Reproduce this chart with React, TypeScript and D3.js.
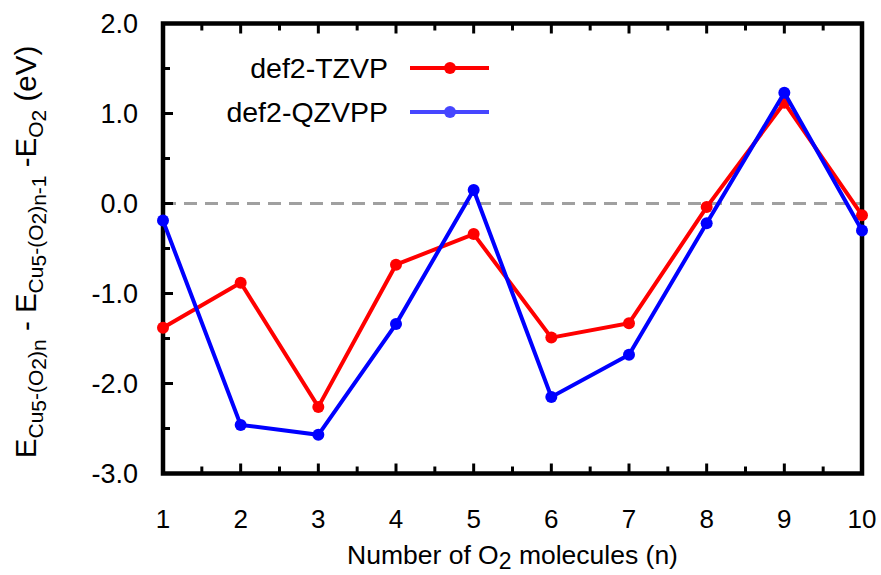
import React from "react";
import * as d3 from "d3";

const nValues = [1, 2, 3, 4, 5, 6, 7, 8, 9, 10];
const tzvp = [-1.38, -0.88, -2.26, -0.68, -0.34, -1.49, -1.33, -0.04, 1.12, -0.13];
const qzvpp = [-0.19, -2.46, -2.57, -1.34, 0.15, -2.15, -1.68, -0.22, 1.23, -0.3];
const yTickLabels = ["2.0", "1.0", "0.0", "-1.0", "-2.0", "-3.0"];
const yTickValues = [2, 1, 0, -1, -2, -3];

const W = 881;
const H = 575;
const FONT = "'Liberation Sans', Arial, Helvetica, sans-serif";

const x = d3.scaleLinear().domain([1, 10]).range([163, 862]);
const y = d3.scaleLinear().domain([-3, 2]).range([473.5, 23.5]);

type Seg = { t: string; lvl: number };

const yLabelSegs: Seg[] = [
  { t: "E", lvl: 0 },
  { t: "Cu", lvl: 1 },
  { t: "5", lvl: 2 },
  { t: "-(O", lvl: 1 },
  { t: "2", lvl: 2 },
  { t: ")", lvl: 1 },
  { t: "n", lvl: 2 },
  { t: " - E", lvl: 0 },
  { t: "Cu", lvl: 1 },
  { t: "5", lvl: 2 },
  { t: "-(O", lvl: 1 },
  { t: "2", lvl: 2 },
  { t: ")", lvl: 1 },
  { t: "n-1", lvl: 2 },
  { t: " -E", lvl: 0 },
  { t: "O", lvl: 1 },
  { t: "2", lvl: 2 },
  { t: " (eV)", lvl: 0 },
];

const levelOffset = [0, 7, 10];
const levelSize = [29.5, 21, 21];

function RichText({ segs }: { segs: Seg[] }) {
  let cur = 0;
  return (
    <>
      {segs.map((s, i) => {
        const target = levelOffset[s.lvl];
        const dy = target - cur;
        cur = target;
        return (
          <tspan key={i} dy={dy} fontSize={levelSize[s.lvl]}>
            {s.t}
          </tspan>
        );
      })}
    </>
  );
}

export default function App() {
  const line = d3
    .line<number>()
    .x((_, i) => x(nValues[i]))
    .y((d) => y(d));

  const series = [
    { name: "def2-TZVP", values: tzvp, color: "#ff0000", legendColor: "#ff0000" },
    { name: "def2-QZVPP", values: qzvpp, color: "#0000ff", legendColor: "#4646ff" },
  ];

  const majorX = nValues;
  const minorX = d3.range(1.5, 10, 1);
  const minorY = d3.range(-2.5, 2, 1);

  const left = x(1);
  const right = x(10);
  const top = y(2);
  const bottom = y(-3);

  return (
    <svg
      width={W}
      height={H}
      style={{ position: "absolute", left: 0, top: 0, background: "#fff" }}
      fontFamily={FONT}
    >
      <rect x={0} y={0} width={W} height={H} fill="#fff" />

      {/* zero reference */}
      <line
        x1={left}
        x2={right}
        y1={y(0)}
        y2={y(0)}
        stroke="#a0a0a0"
        strokeWidth={3}
        strokeDasharray="13 8"
      />

      {/* ticks: inward on left, bottom and top */}
      <g stroke="#000" strokeWidth={3}>
        {yTickValues.map((v) => (
          <line key={"ym" + v} x1={left} x2={left + 10} y1={y(v)} y2={y(v)} />
        ))}
        {minorY.map((v) => (
          <line key={"yn" + v} x1={left} x2={left + 7} y1={y(v)} y2={y(v)} />
        ))}
        {majorX.map((v) => (
          <g key={"xm" + v}>
            <line x1={x(v)} x2={x(v)} y1={bottom} y2={bottom - 10} />
            <line x1={x(v)} x2={x(v)} y1={top} y2={top + 10} />
          </g>
        ))}
        {minorX.map((v) => (
          <g key={"xn" + v}>
            <line x1={x(v)} x2={x(v)} y1={bottom} y2={bottom - 7} />
            <line x1={x(v)} x2={x(v)} y1={top} y2={top + 7} />
          </g>
        ))}
      </g>

      {/* frame */}
      <rect
        x={left}
        y={top}
        width={right - left}
        height={bottom - top}
        fill="none"
        stroke="#000"
        strokeWidth={4.5}
      />

      {/* data */}
      {series.map((s) => (
        <g key={s.name}>
          <path d={line(s.values) || ""} fill="none" stroke={s.color} strokeWidth={4} strokeLinejoin="miter" />
          {s.values.map((v, i) => (
            <circle key={i} cx={x(nValues[i])} cy={y(v)} r={6} fill={s.color} />
          ))}
        </g>
      ))}

      {/* legend */}
      {series.map((s, i) => {
        const ly = 68 + i * 44;
        return (
          <g key={"lg" + s.name}>
            <text x={388} y={ly} dy="0.35em" textAnchor="end" fontSize={28.5} fill="#000">
              {s.name}
            </text>
            <line x1={410} x2={489} y1={ly} y2={ly} stroke={s.legendColor} strokeWidth={4} />
            <circle cx={450} cy={ly} r={6} fill={s.legendColor} />
          </g>
        );
      })}

      {/* y tick labels */}
      {yTickValues.map((v, i) => (
        <text
          key={"yl" + v}
          x={138}
          y={y(v)}
          dy="0.36em"
          textAnchor="end"
          fontSize={27}
          fill="#000"
        >
          {yTickLabels[i]}
        </text>
      ))}

      {/* x tick labels */}
      {nValues.map((v) => (
        <text key={"xl" + v} x={x(v)} y={528} textAnchor="middle" fontSize={26} fill="#000">
          {v}
        </text>
      ))}

      {/* x axis title */}
      <text x={(left + right) / 2} y={564} textAnchor="middle" fontSize={26.5} fill="#000">
        <tspan>Number of O</tspan>
        <tspan dy={5} fontSize={23}>2</tspan>
        <tspan dy={-5}> molecules (n)</tspan>
      </text>

      {/* y axis title */}
      <text
        transform={`translate(36, 252) rotate(-90)`}
        textAnchor="middle"
        fill="#000"
        fontSize={29.5}
      >
        <RichText segs={yLabelSegs} />
      </text>
    </svg>
  );
}
